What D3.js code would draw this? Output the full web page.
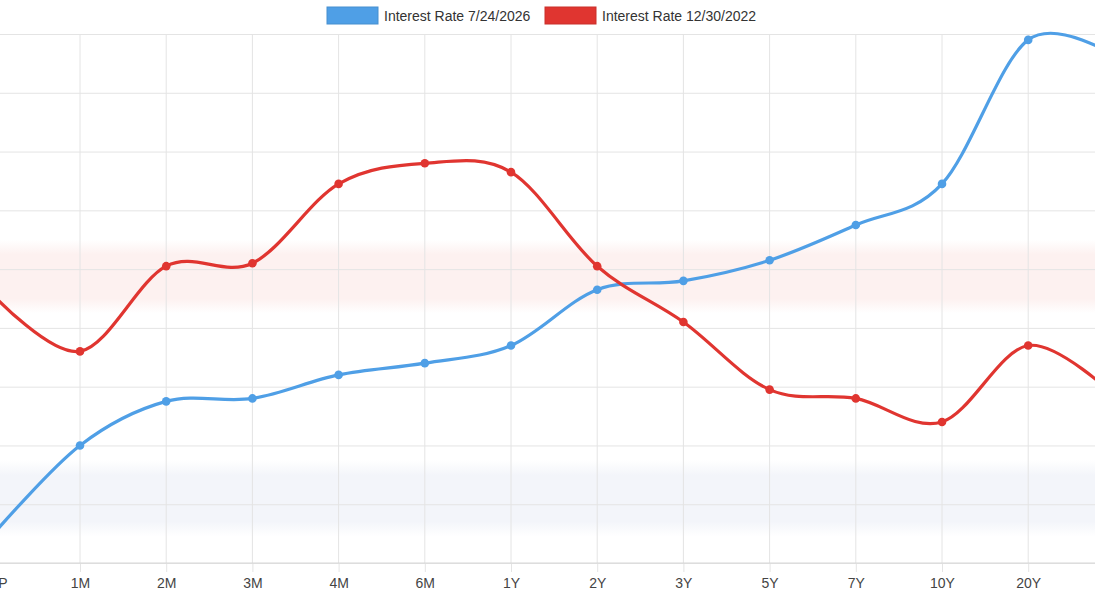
<!DOCTYPE html>
<html>
<head>
<meta charset="utf-8">
<script src="https://cdn.jsdelivr.net/npm/d3@7"></script>
<style>
    body { margin: 0; background: #fff; }
    #chart-area { width: 1095px; height: 600px; overflow: hidden; }
    text { font-family: "Liberation Sans", Arial, sans-serif; }
</style>
</head>
<body>
<div id="chart-area"></div>
<script>
// tenors on the x axis (first label is cut off at the left edge)
const tenors = ["FFP", "1M", "2M", "3M", "4M", "6M", "1Y", "2Y", "3Y", "5Y", "7Y", "10Y", "20Y", "30Y"];

// yields in %
const rates2026 = [3.50, 3.80, 3.95, 3.96, 4.04, 4.08, 4.14, 4.33, 4.36, 4.43, 4.55, 4.69, 5.18, 5.125];
const rates2022 = [4.31, 4.12, 4.41, 4.42, 4.69, 4.76, 4.73, 4.41, 4.22, 3.99, 3.96, 3.88, 4.14, 3.97];

const seriesNames = ["Interest Rate 7/24/2026", "Interest Rate 12/30/2022"];
const seriesColors = ["#4f9fe6", "#e03530"];

// soft shaded bands behind the lines [low, high]
const bandRanges = [[4.25, 4.50], [3.49, 3.75]];
const bandColors = ["#fdf1f0", "#f3f5fa"];

const yTicks = [3.4, 3.6, 3.8, 4.0, 4.2, 4.4, 4.6, 4.8, 5.0, 5.2];

const W = 1095, H = 600;
const plot = {top: 34, bottom: 563, left: 0, right: 1095};

const svg = d3.select("#chart-area").append("svg")
    .attr("width", W)
    .attr("height", H);

const x = d3.scalePoint()
    .domain(tenors)
    .range([-6.2, -6.2 + 86.2 * (tenors.length - 1)]);

const y = d3.scaleLinear()
    .domain([3.4, 5.2])
    .range([plot.bottom, plot.top]);

// band gradients, soft at top and bottom
const defs = svg.append("defs");
bandColors.forEach((c, i) => {
    let g = defs.append("linearGradient")
        .attr("id", "band" + i)
        .attr("x1", 0).attr("y1", 0).attr("x2", 0).attr("y2", 1);
    g.append("stop").attr("offset", "0%").attr("stop-color", c).attr("stop-opacity", 0);
    g.append("stop").attr("offset", "20%").attr("stop-color", c).attr("stop-opacity", 1);
    g.append("stop").attr("offset", "80%").attr("stop-color", c).attr("stop-opacity", 1);
    g.append("stop").attr("offset", "100%").attr("stop-color", c).attr("stop-opacity", 0);
});

svg.selectAll(".band")
    .data(bandRanges)
    .enter().append("rect")
    .attr("class", "band")
    .attr("x", plot.left)
    .attr("width", plot.right - plot.left)
    .attr("y", d => y(d[1]))
    .attr("height", d => y(d[0]) - y(d[1]))
    .attr("fill", (d, i) => `url(#band${i})`);

// horizontal grid
svg.append("g")
    .attr("class", "y-grid")
    .call(d3.axisLeft(y).tickValues(yTicks).tickSize(-(plot.right - plot.left)).tickFormat(""))
    .call(g => g.select(".domain").remove())
    .call(g => g.selectAll("line").attr("stroke", "#e4e4e4"));

// vertical grid
svg.append("g")
    .attr("class", "x-grid")
    .selectAll("line")
    .data(tenors)
    .enter().append("line")
    .attr("x1", d => x(d)).attr("x2", d => x(d))
    .attr("y1", plot.top).attr("y2", plot.bottom)
    .attr("stroke", "#e4e4e4");

// x axis
const xAxis = svg.append("g")
    .attr("class", "x-axis")
    .attr("transform", `translate(0, ${plot.bottom})`)
    .call(d3.axisBottom(x).tickSize(9).tickPadding(6));

xAxis.select(".domain").remove();
xAxis.append("line")
    .attr("x1", 0).attr("x2", W)
    .attr("stroke", "#d6d6d6");
xAxis.selectAll(".tick line").attr("stroke", "#e4e4e4");
xAxis.selectAll(".tick text")
    .attr("fill", "#444")
    .style("font-size", "14px");

// lines
const allSeries = [rates2026, rates2022];
const line = d3.line()
    .x((d, i) => x(tenors[i]))
    .y(d => y(d))
    .curve(d3.curveCardinal.tension(0));

allSeries.forEach((s, k) => {
    svg.append("path")
        .datum(s)
        .attr("fill", "none")
        .attr("stroke", seriesColors[k])
        .attr("stroke-width", 3.2)
        .attr("d", line);
});

allSeries.forEach((s, k) => {
    svg.selectAll(".pt" + k)
        .data(s)
        .enter().append("circle")
        .attr("class", "pt" + k)
        .attr("cx", (d, i) => x(tenors[i]))
        .attr("cy", d => y(d))
        .attr("r", 4.3)
        .attr("fill", seriesColors[k]);
});

// legend
const legendX = [327, 545];
const legend = svg.selectAll(".legend")
    .data(seriesNames)
    .enter().append("g")
    .attr("class", "legend")
    .attr("transform", (d, i) => `translate(${legendX[i]}, 7)`);

legend.append("rect")
    .attr("width", 51)
    .attr("height", 17)
    .attr("fill", (d, i) => seriesColors[i])
    .attr("stroke", (d, i) => d3.color(seriesColors[i]).darker(0.3))
    .attr("stroke-width", 1);

legend.append("text")
    .attr("x", 57)
    .attr("y", 13.5)
    .attr("fill", "#333")
    .style("font-size", "14px")
    .text(d => d);
</script>
</body>
</html>
